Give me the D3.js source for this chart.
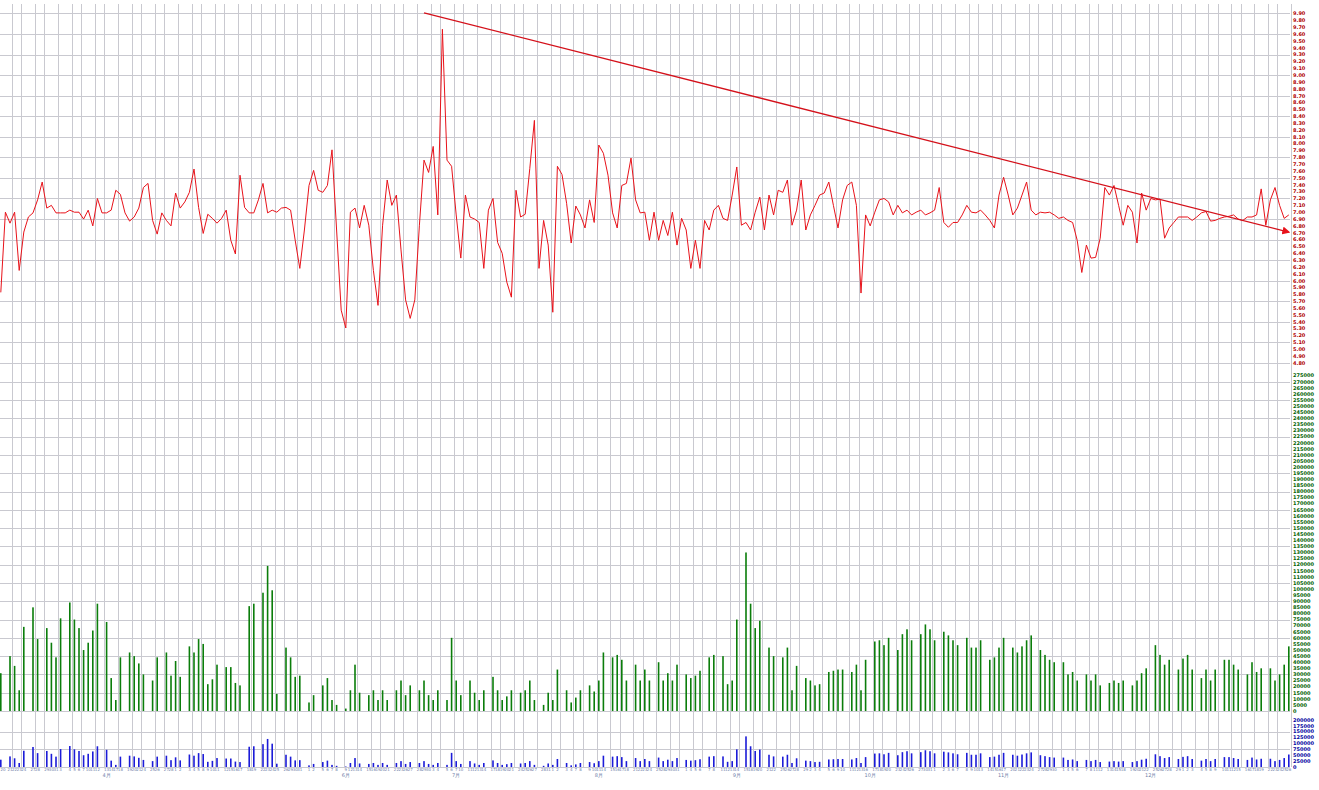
<!DOCTYPE html>
<html><head><meta charset="utf-8">
<script src="https://cdn.jsdelivr.net/npm/d3@7"></script>
<style>body{margin:0;background:#fff;overflow:hidden}svg{display:block;font-family:"DejaVu Sans",sans-serif}</style>
</head><body><svg id="c" width="1319" height="790"></svg>
<script>
// ---- DATA ----
const price = [
5.83,7.00,6.84,7.00,6.15,6.71,6.93,6.99,7.18,7.44,
7.06,7.10,6.99,6.99,6.99,7.03,7.00,7.00,6.90,7.03,
6.80,7.20,6.99,6.99,7.03,7.32,7.26,6.99,6.87,6.93,
7.06,7.36,7.42,6.88,6.68,6.99,6.88,6.80,7.28,7.06,
7.15,7.29,7.63,7.07,6.69,6.97,6.91,6.84,6.91,7.03,
6.59,6.39,7.54,7.07,6.99,6.99,7.18,7.42,6.99,7.03,
7.00,7.06,7.07,7.03,6.59,6.18,6.74,7.39,7.61,7.32,
7.29,7.39,7.91,6.74,5.57,5.31,7.00,7.06,6.77,7.10,
6.81,6.15,5.64,6.81,7.47,7.10,7.25,6.45,5.72,5.45,
5.72,6.81,7.76,7.58,7.96,6.96,9.67,7.76,7.67,6.96,
6.33,7.25,6.93,6.90,6.85,6.18,7.03,7.20,6.56,6.40,
5.98,5.76,7.32,6.93,6.97,7.64,8.34,6.18,6.88,6.52,
5.54,7.67,7.55,7.13,6.55,7.09,6.96,6.77,7.18,6.85,
7.98,7.86,7.54,6.99,6.77,7.39,7.42,7.79,7.18,6.99,
7.00,6.59,7.00,6.59,6.88,6.66,7.00,6.52,6.91,6.74,
6.18,6.59,6.18,6.88,6.74,7.03,7.10,6.91,6.88,7.25,
7.66,6.81,6.85,6.74,7.00,7.22,6.74,7.25,6.96,7.32,
7.29,7.47,6.81,7.03,7.47,6.74,6.96,7.10,7.25,7.28,
7.44,7.10,6.77,7.18,7.39,7.44,7.10,5.82,6.96,6.80,
7.00,7.18,7.20,7.15,6.96,7.10,6.99,7.03,6.96,7.00,
7.03,6.96,6.99,7.03,7.36,6.85,6.78,6.85,6.85,6.96,
7.10,7.00,6.99,7.03,6.96,6.88,6.77,7.25,7.51,7.25,
6.96,7.06,7.25,7.44,7.03,6.96,7.00,6.99,7.00,6.96,
6.91,6.93,6.88,6.85,6.59,6.12,6.52,6.33,6.34,6.62,
7.36,7.25,7.39,7.10,6.81,7.10,7.00,6.55,7.28,7.03,
7.20,7.18,7.19,6.62,6.77,6.85,6.93,6.93,6.93,6.88,
6.93,6.99,7.01,6.87,6.88,6.91,6.93,6.94,6.96,6.90,
6.88,6.93,6.93,6.96,7.34,6.81,7.18,7.36,7.10,6.91,6.96];

// volume in thousands, null = empty slot
const volume = [
31,null,45,37,17,69,null,85,59,null,
68,56,44,76,null,89,75,68,50,56,
66,88,null,73,27,9,44,null,48,45,
39,30,null,25,44,null,48,29,41,28,
null,53,48,59,55,22,26,38,null,36,
36,23,21,null,86,88,null,97,119,99,
14,null,52,44,28,29,null,7,13,null,
21,27,9,5,null,2,17,38,15,null,
13,17,9,17,9,null,17,25,13,21,
null,17,25,13,9,17,null,9,60,25,
13,null,25,15,9,17,null,28,17,9,
12,17,null,15,17,25,9,null,5,15,
9,34,null,17,7,11,17,null,21,16,
25,48,null,44,46,42,25,null,38,25,
34,25,null,40,25,31,25,38,null,30,
27,29,33,null,44,46,null,45,22,25,
75,null,130,88,68,74,null,52,45,null,
44,52,17,37,null,27,25,21,22,null,
32,33,34,34,null,32,38,17,42,null,
57,58,54,60,null,50,63,67,58,null,
63,71,67,58,null,65,62,58,54,null,
60,52,52,58,null,42,44,52,60,null,
52,48,53,58,62,null,50,46,42,40,
null,40,30,32,25,null,30,25,30,21,
null,23,25,23,25,null,21,25,31,35,
null,54,46,38,42,null,34,43,46,34,
null,27,34,25,34,null,42,42,38,34,
null,30,40,32,35,null,35,25,30,38,53];

const trend = [{slot:92, price:9.91},{slot:280, price:6.71}];
const monthLabels = [
 {slot:23,label:"4月"},{slot:75,label:"6月"},{slot:99,label:"7月"},{slot:130,label:"8月"},
 {slot:160,label:"9月"},{slot:189,label:"10月"},{slot:218,label:"11月"},{slot:250,label:"12月"}];
const priceTicks = d3.range(48, 100, 1).map(d=>d/10);
const volTicks = d3.range(0, 280, 5);
const ampTicks = d3.range(0, 225, 25);

// ---- CHART ----
const svg = d3.select("#c");
const N = price.length;
const x = d3.scaleLinear().domain([0, N-1]).range([0.8, 1288.8]);
const yP = d3.scaleLinear().domain([4.77, 9.98]).range([365, 8]);
const yV = d3.scaleLinear().domain([0, 278]).range([711, 372]);
const yB = d3.scaleLinear().domain([0, 208]).range([767, 718]);
const plotR = 1290;

const grid = svg.append("g").attr("stroke", "#c9c9d0").attr("stroke-width", 1);
// vertical grid
const vIdx = [];
for (let k = 1; k * 2.6 < N; k++) vIdx.push(Math.round(k * 2.6));
grid.selectAll("line.v").data(vIdx).join("line")
  .attr("x1", d => Math.round(x(d - 0.5)) + 0.5).attr("x2", d => Math.round(x(d - 0.5)) + 0.5)
  .attr("y1", 4).attr("y2", 767);
// horizontal grid
const hp = priceTicks.filter((d,i)=> i % 3 === 0).map(yP);
const hv = volTicks.filter((d,i)=> i % 3 === 0).map(yV);
const hb = ampTicks.filter((d,i)=> i % 3 === 0).map(yB);
grid.selectAll("line.h").data(hp.concat(hv, hb)).join("line")
  .attr("x1", 0).attr("x2", plotR).attr("y1", d => Math.round(d) + 0.5).attr("y2", d => Math.round(d) + 0.5);

// right axes labels
function axisLabels(ticks, scale, color, fmt) {
  svg.append("g").selectAll("text").data(ticks).join("text")
    .attr("x", 1293).attr("y", d => scale(d) + 1.8)
    .attr("font-size", 5).attr("font-weight", "bold").attr("fill", color)
    .text(fmt);
}
axisLabels(priceTicks, yP, "#b00000", d => d.toFixed(2));
axisLabels(volTicks, yV, "#006000", d => d * 1000);
axisLabels(ampTicks, yB, "#0000a0", d => d * 1000);

// volume bars
const bars = volume.map((v,i)=>({i, v})).filter(d => d.v != null);
svg.append("g").selectAll("rect").data(bars).join("rect")
  .attr("x", d => x(d.i) - 0.8).attr("width", 1.6)
  .attr("y", d => yV(d.v)).attr("height", d => yV(0) - yV(d.v)).attr("fill", "#0b7d0b");
svg.append("g").selectAll("rect").data(bars).join("rect")
  .attr("x", d => x(d.i) - 0.8).attr("width", 1.6)
  .attr("y", d => yB(d.v)).attr("height", d => yB(0) - yB(d.v)).attr("fill", "#1c1cd8");

// price line
svg.append("path").datum(price)
  .attr("fill", "none").attr("stroke", "#e8121a").attr("stroke-width", 1)
  .attr("d", d3.line().x((d,i) => x(i)).y(d => yP(d)));

// trend line with arrow
svg.append("defs").append("marker").attr("id", "arr")
  .attr("viewBox", "0 0 10 10").attr("refX", 8).attr("refY", 5)
  .attr("markerWidth", 8).attr("markerHeight", 8).attr("orient", "auto")
  .attr("markerUnits", "userSpaceOnUse")
  .append("path").attr("d", "M0,0 L10,5 L0,10 z").attr("fill", "#e8121a");
svg.append("line")
  .attr("x1", x(trend[0].slot)).attr("y1", yP(trend[0].price))
  .attr("x2", x(trend[1].slot)).attr("y2", yP(trend[1].price))
  .attr("stroke", "#d4101a").attr("stroke-width", 1.3).attr("marker-end", "url(#arr)");

// x axis day labels
const start = new Date(2023, 2, 20);
let cur = new Date(start);
const dayLabels = [];
bars.forEach(b => {
  while (cur.getDay() === 0 || cur.getDay() === 6) cur.setDate(cur.getDate() + 1);
  dayLabels.push({i: b.i, t: String(cur.getDate())});
  cur.setDate(cur.getDate() + 1);
});
svg.append("g").selectAll("text").data(dayLabels).join("text")
  .attr("x", d => Math.max(x(d.i), 3)).attr("y", 771).attr("text-anchor", "middle")
  .attr("font-size", 4).attr("fill", "#7080a8").text(d => d.t);
svg.append("g").selectAll("text").data(monthLabels).join("text")
  .attr("x", d => x(d.slot)).attr("y", 777).attr("text-anchor", "middle")
  .attr("font-size", 5).attr("fill", "#7080a8").text(d => d.label);
</script></body></html>
